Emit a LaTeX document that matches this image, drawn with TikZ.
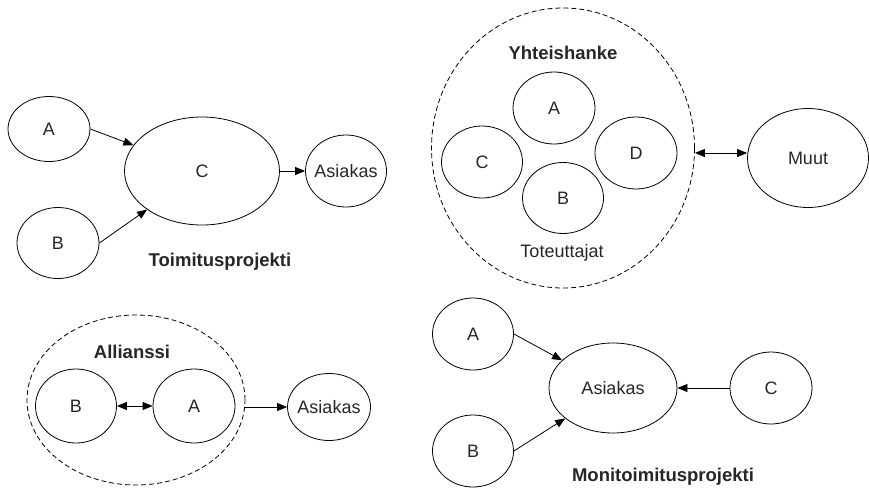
\documentclass[tikz,border=0pt]{standalone}
\usepackage{fontspec}
\setmainfont{Liberation Sans}
\usetikzlibrary{shapes.geometric, arrows.meta}
\begin{document}
\begin{tikzpicture}[x=1pt, y=-1pt, line width=0.8pt,
  party/.style={draw, ellipse, inner sep=0pt, minimum width=82pt, minimum height=72pt, text=black!85, font=\fontsize{18}{20}\selectfont},
  group/.style={draw, ellipse, inner sep=0pt, dash pattern=on 5pt off 3pt},
  title/.style={text=black!85, font=\fontsize{18.5}{20}\selectfont\bfseries},
  plain/.style={text=black!85, font=\fontsize{18}{20}\selectfont},
  arr/.style={-{Triangle[length=10pt, width=8pt]}},
  darr/.style={{Triangle[length=10pt, width=8pt]}-{Triangle[length=10pt, width=8pt]}}]
\useasboundingbox (0, 0) rectangle (869, 490);

\node[party, minimum height=65pt] (a1) at (49, 129) {A};
\node[party, minimum width=155pt, minimum height=108pt] (c1) at (202, 171) {C};
\node[party, minimum width=81pt] (as1) at (346, 171) {\makebox[0pt]{Asiakas}};
\node[party, minimum height=71pt] (b1) at (58, 243) {B};
\node[title] (t1) at (220, 262) {Toimitusprojekti};

\draw[arr] (a1.east) -- (c1);
\draw[arr] (b1.east) -- (c1);
\draw[arr] (c1) -- (as1);

\node[group, minimum width=263pt, minimum height=280pt] (yh) at (563, 148) {};
\node[title] (t2) at (563, 53) {Yhteishanke};
\node[party] (a2) at (554, 108) {A};
\node[party, minimum width=81pt] (c2) at (482, 162) {C};
\node[party, minimum width=81pt, minimum height=71pt] (b2) at (563, 198) {B};
\node[party] (d2) at (636, 153) {D};
\node[plain] (tot) at (562, 253) {Toteuttajat};
\node[party, minimum width=121pt, minimum height=99pt] (muut) at (808, 158) {Muut};

\draw[darr] ([yshift=-5pt]yh.east) -- ([yshift=-5pt]yh.east -| muut.west);

\node[group, minimum width=218pt, minimum height=170pt] (al) at (136, 400) {};
\node[title] (t3) at (132, 352) {Allianssi};
\node[party, minimum width=81pt, minimum height=74pt] (b3) at (76, 406) {B};
\node[party, minimum height=74pt] (a3) at (194, 406) {A};
\node[party, minimum width=83pt, minimum height=67pt] (as3) at (329, 407) {\makebox[0pt]{Asiakas}};

\draw[darr] (b3) -- (a3);
\draw[arr] (al.east |- as3) -- (as3);

\node[party, minimum width=81pt] (a4) at (473, 334) {A};
\node[party, minimum width=128pt, minimum height=90pt] (as4) at (613, 388) {Asiakas};
\node[party] (c4) at (771, 388) {C};
\node[party, minimum width=81pt] (b4) at (473, 451) {B};
\node[title] (t4) at (663, 477) {Monitoimitusprojekti};

\draw[arr] (a4.east) -- (as4);
\draw[arr] (b4.east) -- (as4);
\draw[arr] (c4) -- (as4);

\end{tikzpicture}
\end{document}
